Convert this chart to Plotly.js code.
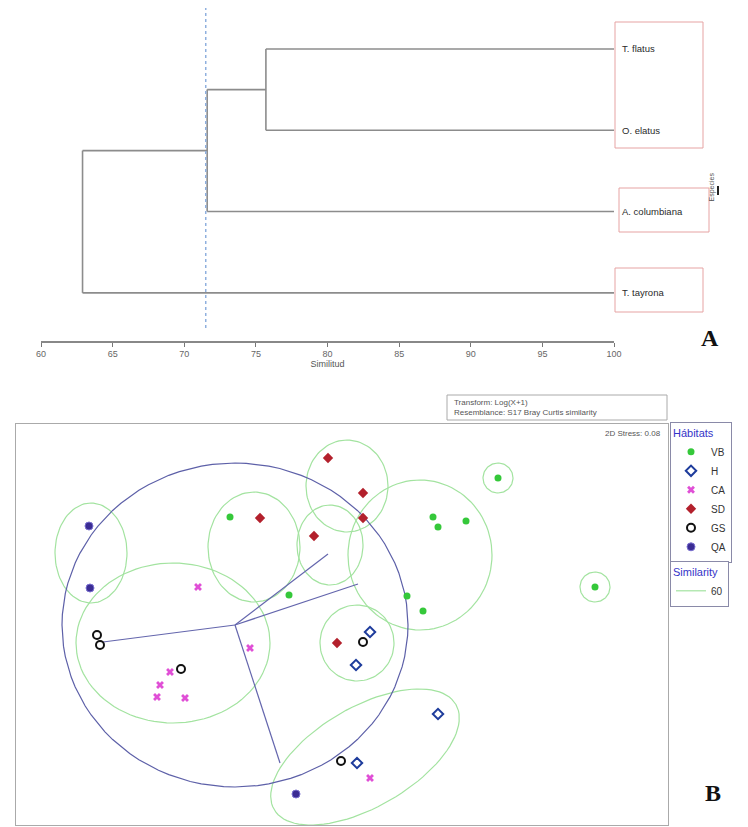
<!DOCTYPE html>
<html>
<head>
<meta charset="utf-8">
<script src="https://cdn.plot.ly/plotly-3.0.1.min.js"></script>
<style>html,body{margin:0;padding:0;background:#fff;}#chart{width:748px;height:827px;}</style>
</head>
<body>
<div id="chart"></div>
<script>
// ---------- Panel A: dendrogram data ----------
const leaves = ["T. flatus", "O. elatus", "A. columbiana", "T. tayrona"];
// merges: children indices (>= leaves.length refers to an earlier merge)
const mergeLeft = [0, 4, 5];
const mergeRight = [1, 2, 3];
const mergeSimilarity = [75.7, 71.6, 62.9];
const cutSimilarity = 71.5;
const simTicks = [60, 65, 70, 75, 80, 85, 90, 95, 100];

// ---------- Panel B: NMDS data ----------
const vbX = [-0.43, -0.135, 0.585, 0.61, 0.75, 0.91, 0.455, 0.535, 1.395];
const vbY = [0.465, 0.075, 0.465, 0.415, 0.445, 0.66, 0.07, -0.005, 0.115];
const hX = [0.27, 0.2, 0.61, 0.205];
const hY = [-0.11, -0.275, -0.52, -0.765];
const caX = [-0.59, -0.33, -0.73, -0.78, -0.795, -0.655, 0.27];
const caY = [0.115, -0.19, -0.31, -0.375, -0.435, -0.44, -0.84];
const sdX = [-0.28, 0.06, 0.235, 0.235, -0.01, 0.105];
const sdY = [0.46, 0.76, 0.585, 0.46, 0.37, -0.165];
const gsX = [-1.095, -1.08, -0.675, 0.235, 0.125];
const gsY = [-0.125, -0.175, -0.295, -0.16, -0.755];
const qaX = [-1.135, -1.13, -0.1];
const qaY = [0.42, 0.11, -0.92];

// vector overlay
const vecOriginX = -0.405, vecOriginY = -0.075;
const vecEndX = [0.06, 0.21, -1.065, -0.18];
const vecEndY = [0.28, 0.13, -0.16, -0.765];
const vecCircleRX = 0.865, vecCircleRY = 0.81;

// 60% similarity contours (ellipses)
const contCX = [-1.125, -0.715, -0.31, 0.155, 0.07, 0.52, 0.205, 0.245, 0.91, 1.395];
const contCY = [0.285, -0.165, 0.315, 0.62, 0.325, 0.275, -0.165, -0.735, 0.66, 0.115];
const contRX = [0.18, 0.485, 0.23, 0.205, 0.165, 0.36, 0.185, 0.525, 0.075, 0.075];
const contRY = [0.25, 0.40, 0.275, 0.23, 0.2, 0.375, 0.19, 0.25, 0.075, 0.075];
const contAngle = [0, 0, 0, 0, 0, 0, 0, 30, 0, 0];
const contourLevel = "60";

// ---------- build traces ----------
const traces = [];

// dendrogram segments
const nodeY = leaves.map((_, i) => i);
const nodeX = leaves.map(() => 100);
const segX = [], segY = [];
for (let m = 0; m < mergeSimilarity.length; m++) {
  const a = mergeLeft[m], b = mergeRight[m], s = mergeSimilarity[m];
  segX.push(nodeX[a], s, null, nodeX[b], s, null, s, s, null);
  segY.push(nodeY[a], nodeY[a], null, nodeY[b], nodeY[b], null, nodeY[a], nodeY[b], null);
  nodeX.push(s);
  nodeY.push((nodeY[a] + nodeY[b]) / 2);
}
traces.push({x: segX, y: segY, xaxis: 'x', yaxis: 'y', mode: 'lines',
  line: {color: '#8c8c8c', width: 1.6}, showlegend: false, hoverinfo: 'skip'});

function ellipse(cx, cy, rx, ry, angDeg) {
  const xs = [], ys = [];
  const th = angDeg * Math.PI / 180;
  for (let k = 0; k <= 96; k++) {
    const t = 2 * Math.PI * k / 96;
    const ex = rx * Math.cos(t), ey = ry * Math.sin(t);
    xs.push(cx + ex * Math.cos(th) - ey * Math.sin(th));
    ys.push(cy + ex * Math.sin(th) + ey * Math.cos(th));
  }
  return [xs, ys];
}

for (let i = 0; i < contCX.length; i++) {
  const [ex, ey] = ellipse(contCX[i], contCY[i], contRX[i], contRY[i], contAngle[i]);
  traces.push({x: ex, y: ey, xaxis: 'x2', yaxis: 'y2', mode: 'lines',
    line: {color: '#a3e3a0', width: 1.2}, name: contourLevel, legend: 'legend2',
    legendgroup: 'cont', showlegend: i === 0, hoverinfo: 'skip'});
}
{
  const [ex, ey] = ellipse(vecOriginX, vecOriginY, vecCircleRX, vecCircleRY, 0);
  traces.push({x: ex, y: ey, xaxis: 'x2', yaxis: 'y2', mode: 'lines',
    line: {color: '#5d60a8', width: 1.2}, showlegend: false, hoverinfo: 'skip'});
}
const vx = [], vy = [];
for (let i = 0; i < vecEndX.length; i++) { vx.push(vecOriginX, vecEndX[i], null); vy.push(vecOriginY, vecEndY[i], null); }
traces.push({x: vx, y: vy, xaxis: 'x2', yaxis: 'y2', mode: 'lines',
  line: {color: '#6466ad', width: 1.2}, showlegend: false, hoverinfo: 'skip'});

function pts(name, xs, ys, marker) {
  traces.push({x: xs, y: ys, xaxis: 'x2', yaxis: 'y2', mode: 'markers', name: name,
    legend: 'legend', marker: marker});
}
pts('VB', vbX, vbY, {symbol: 'circle', size: 7, color: '#35c83a'});
pts('H', hX, hY, {symbol: 'diamond-open', size: 8, color: '#1e3c9c', line: {width: 2, color: '#1e3c9c'}});
pts('CA', caX, caY, {symbol: 'x', size: 7, color: '#e04fd6'});
pts('SD', sdX, sdY, {symbol: 'diamond', size: 8, color: '#b3202c'});
pts('GS', gsX, gsY, {symbol: 'circle-open', size: 8, color: '#111111', line: {width: 2, color: '#111111'}});
pts('QA', qaX, qaY, {symbol: 'circle', size: 8, color: '#3b2c94', line: {width: 1, color: '#7a70d0'}});

// ---------- layout ----------
const W = 748, H = 827;
const px = v => v / W, py = v => 1 - v / H;

const annotations = [];
leaves.forEach((lab, i) => {
  annotations.push({xref: 'paper', yref: 'y', x: px(620), y: i, text: lab, showarrow: false,
    xanchor: 'left', yanchor: 'middle', font: {size: 9.5, color: '#2a2a2a', family: 'Liberation Sans, Arial'}});
});
annotations.push({xref: 'paper', yref: 'paper', x: px(718), y: py(171), text: 'Especies', textangle: -90,
  showarrow: false, font: {size: 7, color: '#555', family: 'Liberation Sans, Arial'}});
annotations.push({xref: 'paper', yref: 'paper', x: px(721), y: py(338), text: '<b>A</b>', showarrow: false,
  font: {size: 24, color: '#111', family: 'Liberation Serif, DejaVu Serif, serif'}});
annotations.push({xref: 'paper', yref: 'paper', x: px(723), y: py(808), text: '<b>B</b>', showarrow: false,
  font: {size: 24, color: '#111', family: 'Liberation Serif, DejaVu Serif, serif'}});
annotations.push({xref: 'paper', yref: 'paper', x: px(452), y: py(407.5), xanchor: 'left', yanchor: 'middle',
  align: 'left', showarrow: false,
  text: 'Transform: Log(X+1)<br>Resemblance: S17 Bray Curtis similarity',
  font: {size: 8, color: '#555', family: 'Liberation Sans, Arial'}});
annotations.push({xref: 'paper', yref: 'paper', x: px(663), y: py(433), xanchor: 'right', yanchor: 'middle',
  showarrow: false, text: '2D Stress: 0.08', font: {size: 8, color: '#555', family: 'Liberation Sans, Arial'}});

const shapes = [
  {type: 'line', xref: 'x', yref: 'paper', x0: cutSimilarity, x1: cutSimilarity, y0: py(328), y1: py(8),
    line: {color: '#8fb0de', width: 1.5, dash: 'dot'}},
  {type: 'rect', xref: 'paper', yref: 'paper', x0: px(615), x1: px(703), y0: py(148), y1: py(22),
    line: {color: '#e6a3a3', width: 1}},
  {type: 'rect', xref: 'paper', yref: 'paper', x0: px(619), x1: px(709), y0: py(232), y1: py(188),
    line: {color: '#e6a3a3', width: 1}},
  {type: 'rect', xref: 'paper', yref: 'paper', x0: px(615), x1: px(703), y0: py(312), y1: py(268),
    line: {color: '#e6a3a3', width: 1}},
  {type: 'line', xref: 'paper', yref: 'paper', x0: px(718), x1: px(718), y0: py(195), y1: py(186),
    line: {color: '#222', width: 2}},
  {type: 'rect', xref: 'paper', yref: 'paper', x0: px(447), x1: px(667), y0: py(420), y1: py(395),
    line: {color: '#aaa', width: 1}}
];

const layout = {
  width: W, height: H,
  margin: {l: 0, r: 0, t: 0, b: 0},
  paper_bgcolor: '#fff', plot_bgcolor: 'rgba(0,0,0,0)',
  font: {family: 'Liberation Sans, Arial, sans-serif'},
  showlegend: true,
  xaxis: {domain: [px(41), px(614)], range: [60, 100], anchor: 'y', tickvals: simTicks,
    ticks: 'outside', ticklen: 4, tickcolor: '#777', showline: true, linecolor: '#888', linewidth: 1.5,
    showgrid: false, zeroline: false, tickfont: {size: 9, color: '#666'},
    title: {text: 'Similitud', font: {size: 9, color: '#555'}, standoff: 2}},
  yaxis: {domain: [py(341), py(8)], range: [3.592, -0.504], anchor: 'x', visible: false},
  xaxis2: {domain: [px(16), px(668)], range: [-1.5, 1.76], anchor: 'y2', showline: true, mirror: true,
    linecolor: '#aaa', linewidth: 1.2, showticklabels: false, ticks: '', showgrid: false, zeroline: false},
  yaxis2: {domain: [py(825), py(424)], range: [-1.075, 0.93], anchor: 'x2', showline: true, mirror: true,
    linecolor: '#aaa', linewidth: 1.2, showticklabels: false, ticks: '', showgrid: false, zeroline: false},
  legend: {x: px(670), y: py(422), xanchor: 'left', yanchor: 'top', bgcolor: '#fff',
    bordercolor: '#8a8aa8', borderwidth: 1, itemwidth: 30, tracegroupgap: 0,
    title: {text: 'Hábitats', font: {size: 11, color: '#3434c8'}},
    font: {size: 10, color: '#333'}},
  legend2: {x: px(670), y: py(561), xanchor: 'left', yanchor: 'top', bgcolor: '#fff',
    bordercolor: '#8a8aa8', borderwidth: 1, itemwidth: 30,
    title: {text: 'Similarity', font: {size: 11, color: '#3434c8'}},
    font: {size: 10, color: '#333'}},
  annotations: annotations,
  shapes: shapes
};

Plotly.newPlot('chart', traces, layout, {staticPlot: true, displayModeBar: false});
</script>
</body>
</html>
